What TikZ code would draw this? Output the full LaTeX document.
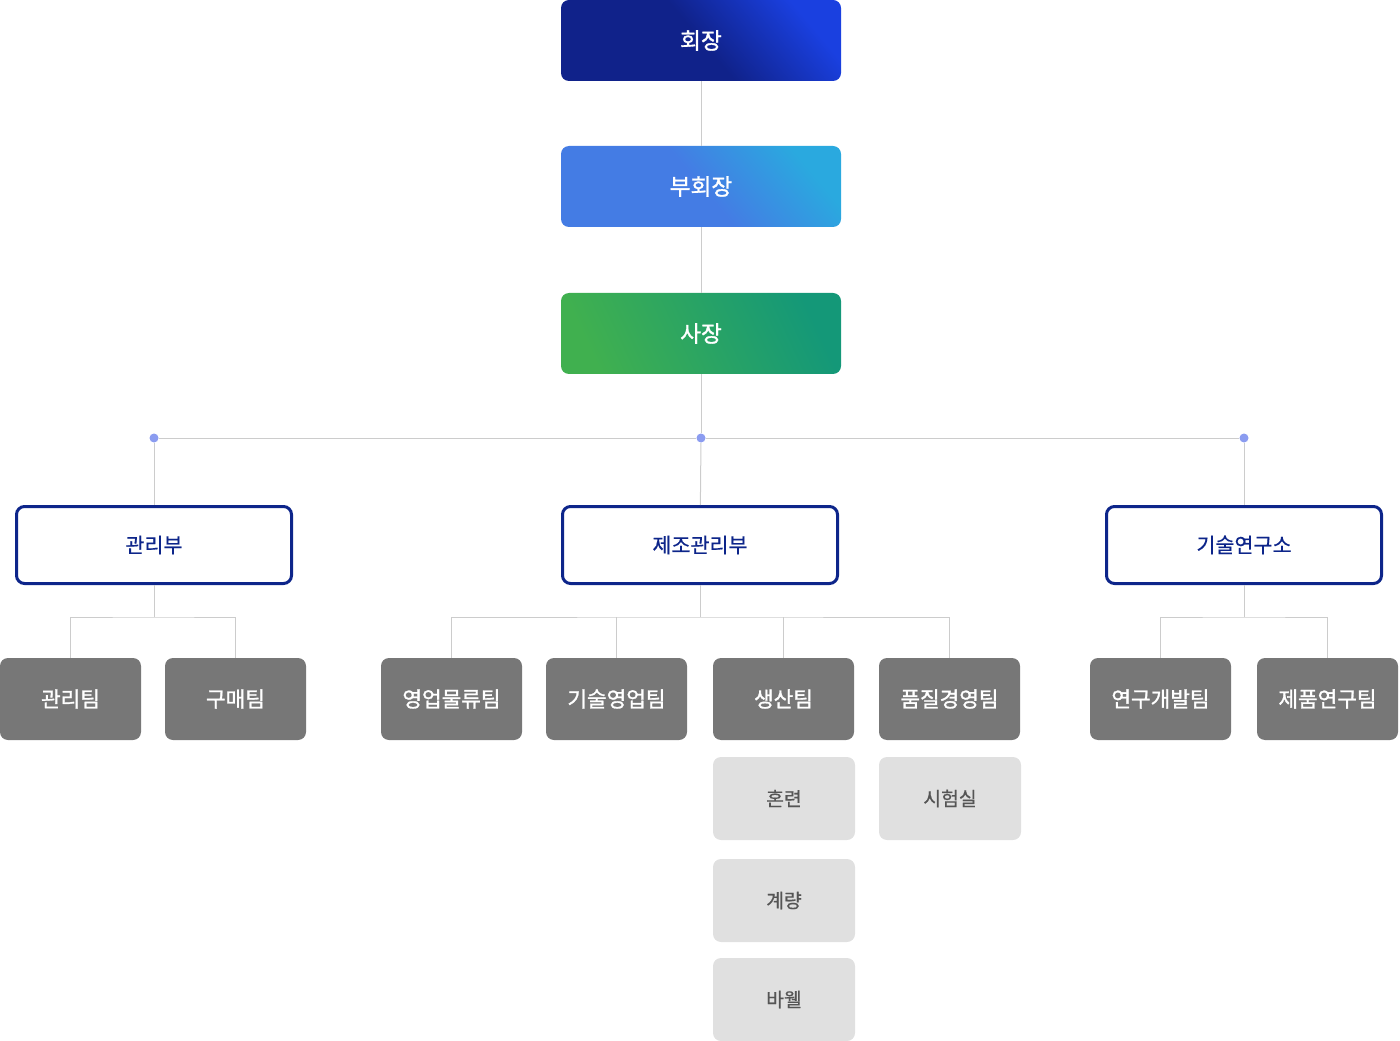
\documentclass[tikz,border=0pt]{standalone}
\usepackage{fontspec}
\setmainfont{Noto Sans CJK KR}
\newfontfamily\krstrong[FakeBold=1.3]{Noto Sans CJK KR}
\newfontfamily\krmedium[FakeBold=0.6]{Noto Sans CJK KR}
\definecolor{chairDark}{HTML}{10228A}
\definecolor{chairLight}{HTML}{1A40E0}
\definecolor{viceLeft}{HTML}{447CE4}
\definecolor{viceRight}{HTML}{2AA9DF}
\definecolor{presLeft}{HTML}{40B04F}
\definecolor{presRight}{HTML}{149878}
\definecolor{deptBlue}{HTML}{0D258A}
\definecolor{teamGray}{HTML}{777777}
\definecolor{subGray}{HTML}{E0E0E0}
\definecolor{subText}{HTML}{555555}
\definecolor{lineGray}{HTML}{CCCCCC}
\definecolor{dotBlue}{HTML}{8B9CF0}
\begin{document}
\begin{tikzpicture}
	[
		x=0.75pt, y=-0.75pt,
		Line/.style={draw=lineGray, line width=0.75pt},
		Dot/.style={circle, fill=dotBlue, inner sep=0pt, minimum size=6.75pt}
	]
	\tikzstyle{Top} = [rectangle, rounded corners=6pt, minimum width=210pt, minimum height=60.75pt, text centered, text=white, font=\fontsize{17}{17}\krstrong]
	\tikzstyle{Dept} = [rectangle, rounded corners=6pt, minimum width=206.25pt, minimum height=57.75pt, draw=deptBlue, line width=2.25pt, fill=white, text=deptBlue, font=\fontsize{15.5}{15.5}\krmedium]
	\tikzstyle{Team} = [rectangle, rounded corners=6pt, minimum width=105.75pt, minimum height=61.5pt, fill=teamGray, text=white, font=\fontsize{16}{16}\krstrong]
	\tikzstyle{Sub} = [rectangle, rounded corners=6pt, minimum width=106.5pt, minimum height=62.25pt, fill=subGray, text=subText, font=\fontsize{14.5}{14.5}\krmedium]
	\useasboundingbox (0,0) rectangle (1400,1041);
	% top of the chart
	\node [Top, left color=chairDark, right color=chairLight, middle color=chairDark, shading angle=130] (hoejang) at (701,40.5) {회장};
	\node [Top, left color=viceLeft, right color=viceRight, middle color=viceLeft, shading angle=130] (buhoejang) at (701,186.5) {부회장};
	\node [Top, left color=presLeft, right color=presRight, shading angle=115] (sajang) at (701,333.5) {사장};
	% departments
	\node [Dept] (gwanribu) at (154,545) {관리부};
	\node [Dept] (jejobu) at (700,545) {제조관리부};
	\node [Dept] (yeonguso) at (1244,545) {기술연구소};
	% teams
	\node [Team] (gwanritim) at (70.5,699) {관리팀};
	\node [Team] (gumaetim) at (235.5,699) {구매팀};
	\node [Team] (yeongeoptim) at (451.5,699) {영업물류팀};
	\node [Team] (gisultim) at (616.5,699) {기술영업팀};
	\node [Team] (saengsantim) at (783.5,699) {생산팀};
	\node [Team] (pumjiltim) at (949.5,699) {품질경영팀};
	\node [Team] (gaebaltim) at (1160.5,699) {연구개발팀};
	\node [Team] (jepumtim) at (1327.5,699) {제품연구팀};
	% sub units
	\node [Sub] (honryeon) at (784,798.5) {혼련};
	\node [Sub] (siheomsil) at (950,798.5) {시험실};
	\node [Sub] (gyeryang) at (784,900.5) {계량};
	\node [Sub] (bawel) at (784,999.5) {바웰};
	% bus and dots
	\node [Dot] (dotL) at (154,438) {};
	\node [Dot] (dotC) at (701,438) {};
	\node [Dot] (dotR) at (1244,438) {};
	\coordinate (jL) at (154,617);
	\coordinate (jC) at (700,617);
	\coordinate (jR) at (1244,617);
	\draw [Line] (hoejang) -- (buhoejang);
	\draw [Line] (buhoejang) -- (sajang);
	\draw [Line] (sajang) -- (dotC);
	\draw [Line] (dotL) -- (dotC) -- (dotR);
	\draw [Line] (dotL) -- (gwanribu);
	\draw [Line] (dotC) -- (jejobu);
	\draw [Line] (dotR) -- (yeonguso);
	\draw [Line] (gwanribu) -- (jL);
	\draw [Line] (gwanritim.north) |- (jL) -| (gumaetim.north);
	\draw [Line] (jejobu) -- (jC);
	\draw [Line] (yeongeoptim.north) |- (jC) -| (pumjiltim.north);
	\draw [Line] (gisultim.north) -- (gisultim.north |- jC);
	\draw [Line] (saengsantim.north) -- (saengsantim.north |- jC);
	\draw [Line] (yeonguso) -- (jR);
	\draw [Line] (gaebaltim.north) |- (jR) -| (jepumtim.north);
\end{tikzpicture}
\end{document}
